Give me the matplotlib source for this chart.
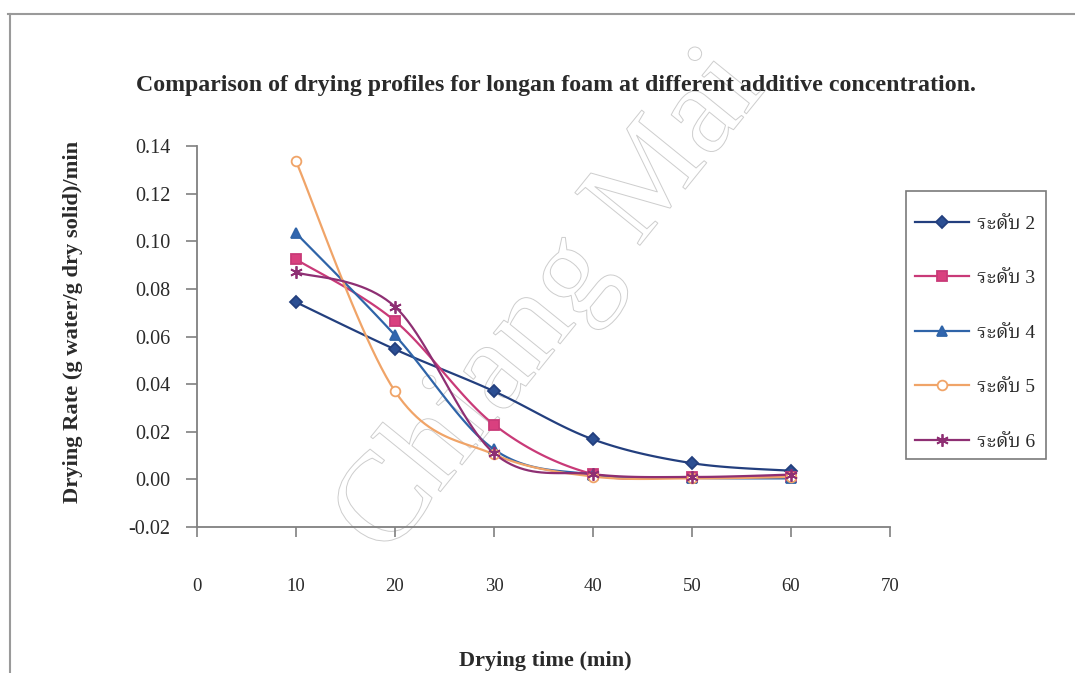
import numpy as np
import matplotlib
matplotlib.use("Agg")
import matplotlib.pyplot as plt
from matplotlib import font_manager
from matplotlib import patheffects
from matplotlib.lines import Line2D
from matplotlib.patches import Rectangle

# drying rate per level, read at 10-min intervals
time_min = [10, 20, 30, 40, 50, 60]
level_2 = [0.0744, 0.0546, 0.0370, 0.0168, 0.0068, 0.0036]
level_3 = [0.0924, 0.0665, 0.0230, 0.0022, 0.0010, 0.0012]
level_4 = [0.1034, 0.0605, 0.0126, 0.0020, 0.0006, 0.0004]
level_5 = [0.1336, 0.0370, 0.0105, 0.0012, 0.0004, 0.0010]
level_6 = [0.0870, 0.0725, 0.0110, 0.0022, 0.0010, 0.0020]
labels = ["ระดับ 2", "ระดับ 3", "ระดับ 4", "ระดับ 5", "ระดับ 6"]

x_ticks = [0, 10, 20, 30, 40, 50, 60, 70]
y_ticks = [-0.02, 0.00, 0.02, 0.04, 0.06, 0.08, 0.10, 0.12, 0.14]

installed = {f.name for f in font_manager.fontManager.ttflist}
thai = next((n for n in ["Noto Serif Thai", "Taviraj", "Trirong", "Sarabun", "Athiti"]
             if n in installed), "DejaVu Sans")
serif = ["Liberation Serif", thai]
plt.rcParams["font.family"] = serif
ink = "#2a2a2a"


def smooth(xs, ys, n=24):
    # excel-style smoothed line: cubic bezier through each point pair
    p = np.column_stack([xs, ys]).astype(float)
    out = [p[:1]]
    for i in range(len(p) - 1):
        p0 = p[i - 1] if i > 0 else p[i]
        p3 = p[i + 2] if i + 2 < len(p) else p[i + 1]
        c1 = p[i] + (p[i + 1] - p0) / 6
        c2 = p[i + 1] - (p3 - p[i]) / 6
        t = np.linspace(0, 1, n)[1:, None]
        seg = ((1 - t) ** 3 * p[i] + 3 * (1 - t) ** 2 * t * c1
               + 3 * (1 - t) * t ** 2 * c2 + t ** 3 * p[i + 1])
        out.append(seg)
    c = np.vstack(out)
    return c[:, 0], c[:, 1]


fig = plt.figure(figsize=(10.75, 6.73), dpi=100)
ax = fig.add_axes([197 / 1075, 1 - 527 / 673, 693 / 1075, 381 / 673])
ax.patch.set_visible(False)

# faint outlined watermark behind the chart
fig.text(552 / 1075, 1 - 305 / 673, "Chiang Mai", ha="center", va="center",
         rotation=51, rotation_mode="anchor", fontsize=92, color="none",
         family="Liberation Serif", zorder=-5,
         path_effects=[patheffects.withStroke(linewidth=0.7, foreground="#cdcdcd")])

series = [
    (level_2, "#233f7e", "D", "#2c4f93", 6.5),
    (level_3, "#c93a78", "s", "#d9407f", 6.5),
    (level_4, "#2f64a8", "^", "#3166b0", 7.5),
    (level_5, "#f0a468", "o", "white", 7),
    (level_6, "#8e2f73", (6, 2, 0), "#8e2f73", 9),
]
handles = []
for vals, col, mk, face, ms in series:
    sx, sy = smooth(time_min, vals)
    ax.plot(sx, sy, color=col, lw=1.6, zorder=2)
    ax.plot(time_min, vals, ls="none", marker=mk, ms=ms, mfc=face,
            mec=col, mew=1.3, zorder=3)
    handles.append(Line2D([], [], color=col, lw=1.6, marker=mk, ms=ms,
                          mfc=face, mec=col, mew=1.3))

ax.set_xlim(0, 70)
ax.set_ylim(-0.02, 0.14)
ax.set_xticks(x_ticks)
ax.set_yticks(y_ticks)
ax.set_yticklabels(["%.2f" % v for v in y_ticks])
for s in ["top", "right"]:
    ax.spines[s].set_visible(False)
for s in ["left", "bottom"]:
    ax.spines[s].set_color("#808080")
    ax.spines[s].set_linewidth(1.3)
ax.tick_params(axis="x", direction="out", length=7, width=1.2, color="#808080",
               pad=30, labelsize=13.5, labelcolor=ink)
ax.tick_params(axis="y", direction="out", length=8, width=1.2, color="#808080",
               pad=11, labelsize=14.5, labelcolor=ink)

fig.text(556 / 1075, 1 - 85 / 673, "Comparison of drying profiles for longan foam "
         "at different additive concentration.", ha="center", va="center",
         fontsize=17.2, fontweight="bold", color=ink)
fig.text(545 / 1075, 1 - 661 / 673, "Drying time (min)", ha="center",
         va="center", fontsize=16, fontweight="bold", color=ink)
fig.text(73 / 1075, 1 - 322 / 673, "Drying Rate (g water/g dry solid)/min",
         ha="center", va="center", rotation=90, fontsize=16.2,
         fontweight="bold", color=ink)

# legend entries without frame, box drawn separately
leg = ax.legend(handles, labels, loc="upper left",
                bbox_to_anchor=(915 / 1075, 1 - 215 / 673),
                bbox_transform=fig.transFigure, borderaxespad=0,
                frameon=False, fontsize=14, labelspacing=1.9,
                handlelength=2.8, handletextpad=0.4, borderpad=0,
                labelcolor=ink)
fig.add_artist(Rectangle((906 / 1075, 1 - 459 / 673), 140 / 1075, 268 / 673,
                         transform=fig.transFigure, fill=False,
                         edgecolor="#7a7a7a", lw=1.2))

# page border from the scanned sheet
fig.add_artist(Line2D([8 / 1075, 1], [1 - 14 / 673] * 2, color="#9a9a9a", lw=1.5))
fig.add_artist(Line2D([10 / 1075] * 2, [0, 1 - 14 / 673], color="#9a9a9a", lw=1.5))

fig.savefig("out.png", dpi=100)
